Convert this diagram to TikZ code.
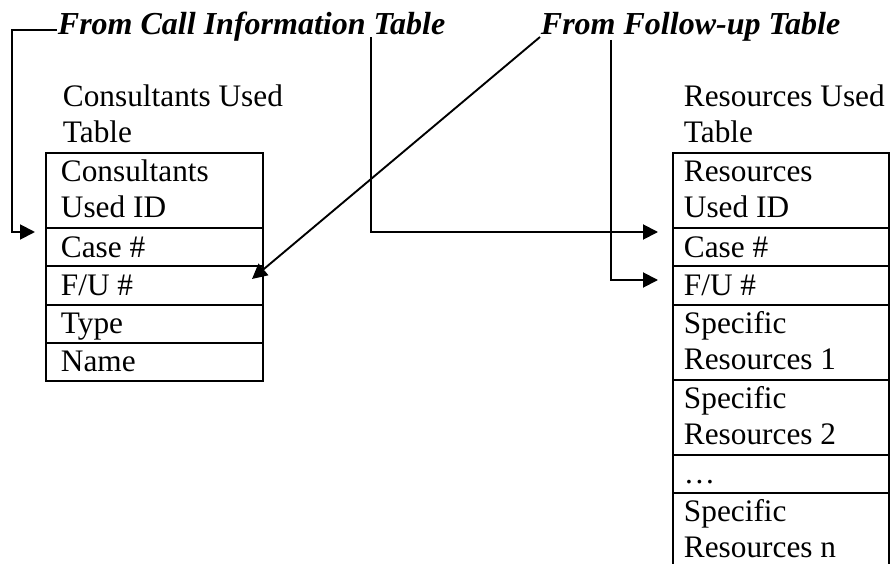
\documentclass[tikz,border=0pt]{standalone}
\usepackage{fontspec}
\setmainfont{Liberation Serif}
\usetikzlibrary{arrows.meta}
\begin{document}
\begin{tikzpicture}[x=1pt,y=-1pt,line width=1.9pt,
  txt/.style={anchor=base west,inner sep=0pt,font=\fontsize{31.3}{36}\selectfont},
  lbl/.style={anchor=base west,inner sep=0pt,font=\fontsize{32}{36}\selectfont\bfseries\itshape},
  conn/.style={-{Triangle[length=15pt,width=15pt]},line width=1.9pt},
  lcell/.style={draw,line width=1.9pt,anchor=north west,inner sep=0pt,minimum width=217pt},
  rcell/.style={draw,line width=1.9pt,anchor=north west,inner sep=0pt,minimum width=216pt},
  one/.style={minimum height=38.3pt},
  two/.style={minimum height=75pt}]
\useasboundingbox (0,0) rectangle (891,564);
\clip (0,0) rectangle (891,564);
% labels
\node[lbl] (callinfo) at (57,35) {From Call Information Table};
\node[lbl] (followup) at (540,35) {From Follow-up Table};
% left table
\node[txt] (ltitle1) at (62,107) {Consultants Used};
\node[txt] (ltitle2) at (62,143) {Table};
\node[lcell,two] (L1) at (45,152) {};
\node[lcell,one] (L2) at (45,227) {};
\node[lcell,one] (L3) at (45,265.3) {};
\node[lcell,one] (L4) at (45,303.6) {};
\node[lcell,one] (L5) at (45,341.9) {};
\node[txt] (L1a) at (60,182) {Consultants};
\node[txt] (L1b) at (60,218) {Used ID};
\node[txt] (L2a) at (60,257) {Case \#};
\node[txt] (L3a) at (60,295.3) {F/U \#};
\node[txt] (L4a) at (60,333.6) {Type};
\node[txt] (L5a) at (60,371.9) {Name};
% right table
\node[txt] (rtitle1) at (683,107) {Resources Used};
\node[txt] (rtitle2) at (683,143) {Table};
\node[rcell,two] (R1) at (672,152) {};
\node[rcell,one] (R2) at (672,227) {};
\node[rcell,one] (R3) at (672,265.3) {};
\node[rcell,two] (R4) at (672,303.6) {};
\node[rcell,two] (R5) at (672,378.6) {};
\node[rcell,one] (R6) at (672,453.6) {};
\node[rcell,two] (R7) at (672,491.9) {};
\node[txt] (R1a) at (683,182) {Resources};
\node[txt] (R1b) at (683,218) {Used ID};
\node[txt] (R2a) at (683,257) {Case \#};
\node[txt] (R3a) at (683,295.3) {F/U \#};
\node[txt] (R4a) at (683,333.6) {Specific};
\node[txt] (R4b) at (683,369.6) {Resources 1};
\node[txt] (R5a) at (683,408.6) {Specific};
\node[txt] (R5b) at (683,444.6) {Resources 2};
\node[txt] (R6a) at (683,483.6) {\dots};
\node[txt] (R7a) at (683,521.9) {Specific};
\node[txt] (R7b) at (683,557.9) {Resources n};
% connector coordinates
\coordinate (s1) at (57,30);
\coordinate (b1) at (12,30);
\coordinate (e1) at (35,232);
\coordinate (s2) at (371,37);
\coordinate (e2) at (658,232);
\coordinate (s3) at (611,40);
\coordinate (e3) at (658,280);
\coordinate (s4) at (540,37);
\coordinate (e4) at (252,279);
% connectors
\draw[conn] (s1) -- (b1) |- (e1);
\draw[conn] (s2) |- (e2);
\draw[conn] (s3) |- (e3);
\draw[conn] (s4) -- (e4);
\end{tikzpicture}
\end{document}
